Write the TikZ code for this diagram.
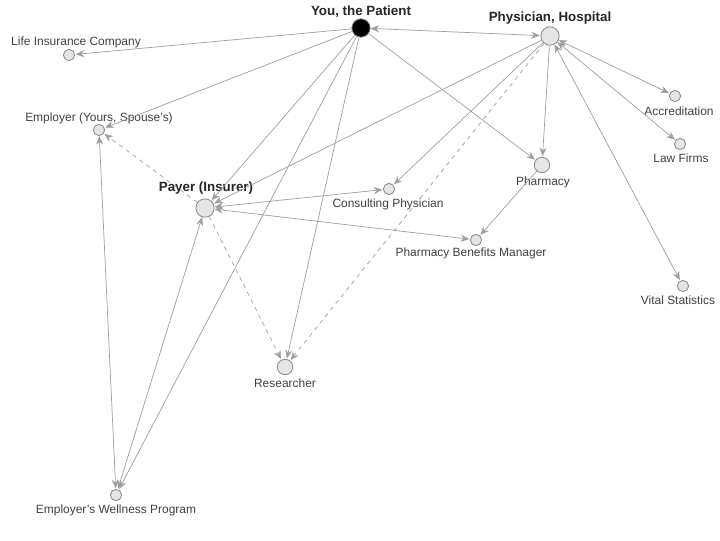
\documentclass[tikz,border=0pt]{standalone}
\usepackage{fontspec}
\setmainfont{Liberation Sans}
\usetikzlibrary{arrows.meta}
\begin{document}
\begin{tikzpicture}[x=0.025cm,y=-0.025cm,font=\fontsize{8.5}{10}\selectfont]

		\tikzset{actor/.style={circle,fill=gray!20,draw=gray!90,line width=0.6pt,
				minimum size=8pt,inner sep=0pt},
			big/.style={actor,minimum size=13pt},
			lbl/.style={text=black!75},
			head/.style={lbl,font=\fontsize{9.5}{11}\selectfont\bfseries,text=black!85},
			link/.style={-{Stealth[length=6pt,width=5pt]},draw=gray!75,line width=0.5pt,shorten >=0.5pt},
			both/.style={link,{Stealth[length=6pt,width=5pt]}-{Stealth[length=6pt,width=5pt]}},
			guess/.style={link,dashed}}

		\useasboundingbox (0,0) rectangle (720,540);

		\node[big,fill=black,draw=gray]	(patient)	at (361,28)	{};
		\node[big]	(physician)	at (550,36)	{};
		\node[actor]	(life)	at (69,55)	{};
		\node[actor]	(employer)	at (99,130)	{};
		\node[big]	(payer)	at (205,208)	{};
		\node[actor]	(consult)	at (389,189)	{};
		\node[big,minimum size=11pt]	(pharmacy)	at (542,165)	{};
		\node[actor]	(pbm)	at (476,240)	{};
		\node[big,minimum size=11pt]	(research)	at (285,367)	{};
		\node[actor]	(wellness)	at (116,495)	{};
		\node[actor]	(accred)	at (675,96)	{};
		\node[actor]	(law)	at (680,144)	{};
		\node[actor]	(vital)	at (683,286)	{};

		\node[head]	at (361,12)	{You, the Patient};
		\node[head]	at (550,18)	{Physician, Hospital};
		\node[lbl]	at (76,42)	{Life Insurance Company};
		\node[lbl]	at (99,118)	{Employer (Yours, Spouse's)};
		\node[head]	at (206,188)	{Payer (Insurer)};
		\node[lbl]	at (388,204)	{Consulting Physician};
		\node[lbl]	at (543,182)	{Pharmacy};
		\node[lbl]	at (471,253)	{Pharmacy Benefits Manager};
		\node[lbl]	at (285,383)	{Researcher};
		\node[lbl]	at (116,510)	{Employer's Wellness Program};
		\node[lbl]	at (679,111)	{Accreditation};
		\node[lbl]	at (681,158)	{Law Firms};
		\node[lbl]	at (678,300)	{Vital Statistics};

		\draw[both]	(patient)	--	(physician);
		\draw[link]	(patient)	--	(life);
		\draw[link]	(patient)	--	(employer);
		\draw[link]	(patient)	--	(payer);
		\draw[link]	(patient)	--	(wellness);
		\draw[link]	(patient)	--	(research);
		\draw[link]	(patient)	--	(pharmacy);

		\draw[link]	(physician)	--	(payer);
		\draw[link]	(physician)	--	(consult);
		\draw[guess]	(physician)	--	(research);
		\draw[link]	(physician)	--	(pharmacy);
		\draw[both]	(physician)	--	(accred);
		\draw[both]	(physician)	--	(law);
		\draw[both]	(physician)	--	(vital);

		\draw[both]	(payer)	--	(consult);
		\draw[both]	(payer)	--	(pbm);
		\draw[link]	(pharmacy)	--	(pbm);
		\draw[guess]	(payer)	--	(employer);
		\draw[guess]	(payer)	--	(research);
		\draw[both]	(payer)	--	(wellness);
		\draw[both]	(employer)	--	(wellness);

	\end{tikzpicture}
\end{document}
